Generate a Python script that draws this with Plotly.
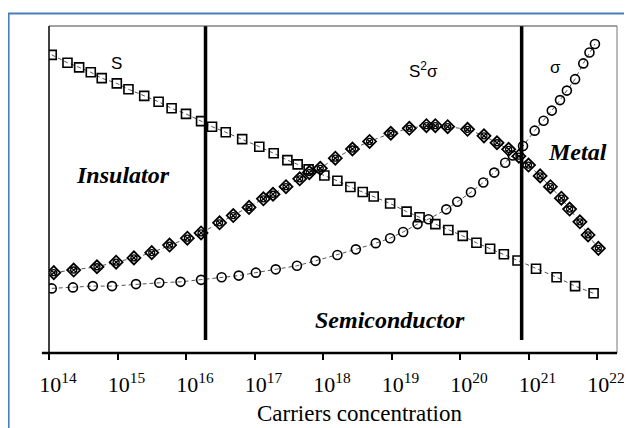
import numpy as np
import plotly.graph_objects as go

# ---- data (x: log10 of carrier concentration, y: arbitrary units) ----
s_exp = [14.04, 14.27, 14.44, 14.61, 14.77, 14.99, 15.16, 15.39, 15.60, 15.79, 16.00, 16.22,
         16.38, 16.58, 16.82, 17.07, 17.28, 17.48, 17.63, 17.79, 18.02, 18.21, 18.40, 18.58,
         18.74, 18.98, 19.22, 19.41, 19.64, 19.83, 20.04, 20.24, 20.44, 20.64, 20.84, 21.11,
         21.41, 21.68, 21.95]
s_val = [90.9, 88.5, 87.1, 85.6, 83.8, 82.2, 80.4, 78.4, 76.6, 74.6, 72.9, 70.7,
         69.0, 67.3, 65.2, 62.9, 60.9, 58.8, 57.5, 56.0, 54.1, 52.5, 50.6, 49.1,
         47.7, 45.6, 43.1, 41.4, 39.3, 37.5, 35.7, 33.6, 31.8, 30.1, 28.2, 25.7,
         23.1, 20.4, 18.2]

pf_exp = [14.07, 14.36, 14.70, 14.98, 15.24, 15.50, 15.76, 16.02, 16.22, 16.49, 16.69, 16.92,
          17.13, 17.27, 17.46, 17.66, 17.80, 17.96, 18.18, 18.43, 18.68, 18.99, 19.26, 19.51,
          19.64, 19.82, 20.11, 20.35, 20.54, 20.71, 20.86, 21.00, 21.17, 21.32, 21.48, 21.60,
          21.75, 21.87, 22.02]
pf_val = [24.5, 25.3, 26.3, 27.7, 29.0, 30.6, 32.9, 35.0, 36.6, 39.7, 41.9, 44.4,
          47.0, 48.4, 50.7, 53.1, 55.0, 56.3, 59.4, 62.2, 64.5, 67.0, 68.5, 69.3,
          69.3, 69.0, 68.2, 66.2, 64.1, 62.1, 60.0, 57.3, 54.0, 50.7, 47.2, 43.9,
          40.0, 36.0, 31.9]

sig_exp = [14.04, 14.35, 14.64, 14.92, 15.27, 15.61, 15.92, 16.22, 16.52, 16.77, 17.02, 17.31,
           17.62, 17.89, 18.21, 18.48, 18.77, 18.98, 19.17, 19.38, 19.54, 19.80, 19.96, 20.16,
           20.34, 20.50, 20.66, 20.77, 20.92, 21.09, 21.22, 21.34, 21.46, 21.56, 21.68, 21.80,
           21.89, 21.97]
sig_val = [19.7, 20.0, 20.4, 20.4, 21.0, 21.4, 21.7, 22.3, 23.1, 23.6, 24.5, 25.5,
           26.6, 28.1, 29.9, 31.6, 33.5, 35.0, 36.9, 39.3, 40.8, 43.8, 46.1, 49.0,
           52.0, 55.0, 58.0, 60.2, 63.1, 67.8, 70.8, 73.9, 77.1, 80.0, 83.5, 88.3,
           91.6, 94.2]

boundary_exp = [16.285, 20.90]          # insulator/semiconductor, semiconductor/metal
tick_exp = [14, 15, 16, 17, 18, 19, 20, 21, 22]

region_labels = ["Insulator", "Semiconductor", "Metal"]
region_pos = [(15.08, 54.3), (18.98, 10.1), (21.72, 61.3)]
curve_labels = ["S", "S<sup>2</sup>σ", "σ"]
curve_pos = [(14.99, 88.4), (19.46, 86.3), (21.39, 86.9)]

X_RANGE = [14, 22.292]
Y_RANGE = [0, 99.7]


def pow10(vals):
    return (10.0 ** np.asarray(vals, dtype=float)).tolist()


fig = go.Figure()

line_style = dict(color="#555555", width=1, dash="4px,3px")

fig.add_trace(go.Scatter(
    x=pow10(s_exp), y=s_val, mode="lines+markers",
    line=line_style,
    marker=dict(symbol="square-open", size=9, color="black", line=dict(width=1.6, color="black")),
    showlegend=False))
fig.add_trace(go.Scatter(
    x=pow10(sig_exp), y=sig_val, mode="lines+markers",
    line=line_style,
    marker=dict(symbol="circle-open", size=9, color="black", line=dict(width=1.6, color="black")),
    showlegend=False))
fig.add_trace(go.Scatter(
    x=pow10(pf_exp), y=pf_val, mode="lines+markers",
    line=line_style,
    marker=dict(symbol="diamond-open", size=10, color="black", line=dict(width=1.8, color="black")),
    showlegend=False))
fig.add_trace(go.Scatter(
    x=pow10(pf_exp), y=pf_val, mode="markers",
    marker=dict(symbol="circle-x-open", size=6, color="black", line=dict(width=1.3, color="black")),
    showlegend=False))

# region boundaries
for b in boundary_exp:
    fig.add_trace(go.Scatter(
        x=pow10([b, b]), y=[4.0, Y_RANGE[1]], mode="lines",
        line=dict(color="black", width=3.5), showlegend=False, hoverinfo="skip"))

serif = "Liberation Serif, Times New Roman, serif"
sans = "Liberation Sans, Arial, sans-serif"

annotations = []
for txt, (xe, yv) in zip(region_labels, region_pos):
    annotations.append(dict(x=xe, y=yv, xref="x", yref="y", text=f"<b><i>{txt}</i></b>",
                            showarrow=False, font=dict(family=serif, size=24, color="black")))
for txt, (xe, yv) in zip(curve_labels, curve_pos):
    annotations.append(dict(x=xe, y=yv, xref="x", yref="y", text=txt,
                            showarrow=False, font=dict(family=sans, size=17, color="black")))
annotations.append(dict(x=0.5458, y=-0.1835, xref="paper", yref="paper",
                        text="Carriers concentration", showarrow=False,
                        yanchor="middle", xanchor="center",
                        font=dict(family=serif, size=23, color="black")))

shapes = [
    # blue frame
    dict(type="rect", xref="paper", yref="paper", x0=-0.0713, x1=1.05, y0=-0.35, y1=1.0382,
         line=dict(color="#4a7ebb", width=2.2), fillcolor="rgba(0,0,0,0)", layer="below"),
    # top and right frame lines
    dict(type="line", xref="paper", yref="paper", x0=0, x1=1, y0=1, y1=1,
         line=dict(color="#444", width=1)),
    dict(type="line", xref="paper", yref="paper", x0=1, x1=1, y0=0, y1=1,
         line=dict(color="#777", width=1)),
    # left axis line (extends a bit below)
    dict(type="line", xref="paper", yref="paper", x0=0, x1=0, y0=-0.02, y1=1,
         line=dict(color="black", width=1.5)),
    # bottom axis line extending left
    dict(type="line", xref="paper", yref="paper", x0=-0.0125, x1=1, y0=0, y1=0,
         line=dict(color="black", width=2.5)),
]

# the page body adds an 8px offset, so the figure is 8px smaller on each axis
fig.update_layout(
    width=624, height=420,
    margin=dict(l=41, r=15, t=18, b=75, autoexpand=False),
    paper_bgcolor="white", plot_bgcolor="white",
    annotations=annotations, shapes=shapes,
    xaxis=dict(type="log", range=X_RANGE, showgrid=False, zeroline=False, showline=False,
               automargin=False,
               tickvals=pow10(tick_exp),
               ticktext=[f"10<sup>{k}</sup>" for k in tick_exp],
               ticks="outside", ticklen=6, tickwidth=1.5, tickcolor="black",
               ticklabelshift=9, ticklabelstandoff=6,
               tickfont=dict(family=serif, size=22, color="black")),
    yaxis=dict(range=Y_RANGE, showgrid=False, zeroline=False, showline=False,
               automargin=False, showticklabels=False, ticks=""),
)

fig.write_html("out.html")
